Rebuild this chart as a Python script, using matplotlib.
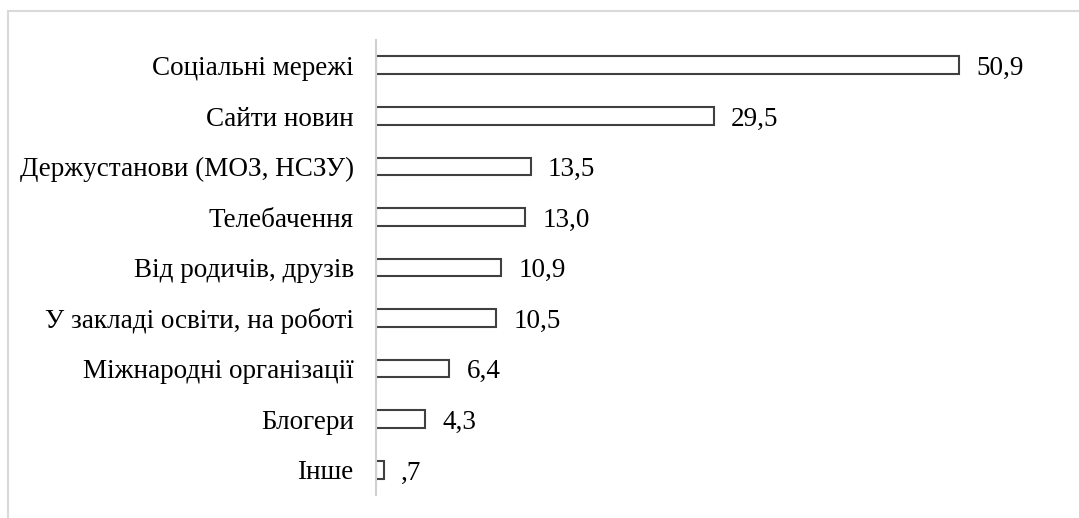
import matplotlib
matplotlib.use("Agg")
import matplotlib.pyplot as plt
from matplotlib.patches import Rectangle
from matplotlib.transforms import ScaledTranslation

categories = ["Соціальні мережі", "Сайти новин", "Держустанови (МОЗ, НСЗУ)",
              "Телебачення", "Від родичів, друзів", "У закладі освіти, на роботі",
              "Міжнародні організації", "Блогери", "Інше"]
values = [50.9, 29.5, 13.5, 13.0, 10.9, 10.5, 6.4, 4.3, 0.7]
value_labels = ["50,9", "29,5", "13,5", "13,0", "10,9", "10,5", "6,4", "4,3", ",7"]

W, H = 1079, 518
fig = plt.figure(figsize=(W / 100, H / 100), dpi=100)
fig.patch.set_facecolor("white")

# outer frame (light gray), running off the right/bottom edges
fig.patches.append(Rectangle((8 / W, -0.1), 1.2, 1 - 11 / H + 0.1,
                             transform=fig.transFigure, fill=False,
                             edgecolor="#d9d9d9", linewidth=1.5))

ax_left, ax_right = 376, 1040
ax_top, ax_bot = 40, 495
ax = fig.add_axes([ax_left / W, 1 - ax_bot / H, (ax_right - ax_left) / W, (ax_bot - ax_top) / H])

px_per_unit = (960 - 377) / 50.9
ax.set_xlim(0, (ax_right - ax_left) / px_per_unit)
ax.set_ylim(len(categories) - 0.5, -0.5)

ypos = list(range(len(categories)))
ax.barh(ypos, values, height=0.35, color="white", edgecolor="#404040", linewidth=1.5)

font = ["Liberation Serif", "DejaVu Serif"]
fs = 19.5
base_shift_pt = -7.0
for y, v, lab in zip(ypos, values, value_labels):
    ax.annotate(lab, (v, y), xytext=(12.5, base_shift_pt), textcoords="offset points",
                ha="left", va="baseline", fontsize=fs, family=font, color="black")

ax.set_yticks(ypos)
ax.set_yticklabels(categories, fontsize=fs, family=font, color="black", va="baseline")
ax.tick_params(axis="y", length=0, pad=16)
shift = ScaledTranslation(0, base_shift_pt / 72, fig.dpi_scale_trans)
for lbl in ax.get_yticklabels():
    lbl.set_transform(lbl.get_transform() + shift)
ax.set_xticks([])

for s in ["top", "right", "bottom"]:
    ax.spines[s].set_visible(False)
ax.spines["left"].set_color("#d0d0d0")
ax.spines["left"].set_linewidth(1.5)

fig.savefig("out.png", dpi=100, facecolor="white")
